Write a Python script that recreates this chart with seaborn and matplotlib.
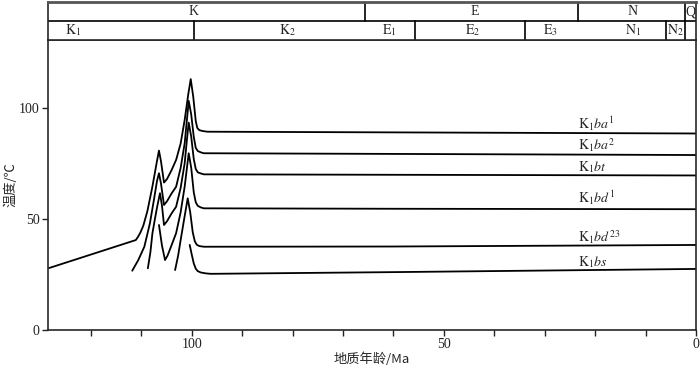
import matplotlib
matplotlib.use("Agg")
import matplotlib.pyplot as plt
import pandas as pd
import seaborn as sns
from matplotlib.ticker import FuncFormatter, MultipleLocator

# Data: age (Ma) and temperature (degC) along each layer's burial path
ba1_age = [128.3, 111.1, 110.7, 110.2, 109.6, 108.8, 107.8, 106.9, 106.5, 106.1, 105.5, 104.9, 104.0,
           103.1, 102.2, 101.4, 100.7, 100.2, 99.7, 99.2, 98.9, 98.5, 97.8, 96.9, 60.0, 0.0]
ba1_temp = [27.9, 40.5, 41.8, 43.8, 47.0, 53.5, 64.6, 76.0, 80.8, 76.0, 66.4, 68.0, 72.0,
            76.6, 84.0, 94.6, 106.0, 113.0, 105.0, 94.0, 91.0, 90.0, 89.6, 89.3, 89.0, 88.5]

ba2_age = [111.8, 110.6, 109.4, 108.3, 107.5, 106.9, 106.5, 106.1, 105.5, 104.9, 104.0, 103.1,
           102.2, 101.4, 100.9, 100.6, 100.1, 99.6, 99.2, 98.8, 98.2, 97.6, 60.0, 0.0]
ba2_temp = [26.7, 31.5, 37.5, 48.0, 58.6, 67.0, 70.6, 66.0, 56.3, 58.0, 61.5, 64.5,
            73.0, 84.1, 96.0, 103.2, 97.0, 87.0, 82.0, 80.6, 80.0, 79.6, 79.3, 78.8]

bt_age = [108.7, 108.2, 107.8, 107.3, 106.9, 106.3, 105.9, 105.5, 104.9, 104.0, 103.1, 102.2,
          101.4, 100.9, 100.6, 100.1, 99.6, 99.2, 98.8, 98.2, 97.6, 60.0, 0.0]
bt_temp = [27.8, 35.0, 43.5, 50.0, 55.0, 61.6, 56.0, 47.3, 49.0, 52.5, 55.5, 64.0,
           75.1, 87.0, 93.4, 87.0, 77.0, 72.5, 71.0, 70.5, 70.1, 69.9, 69.6]

bd1_age = [106.5, 105.9, 105.3, 104.8, 104.2, 103.1, 102.2, 101.4, 100.9, 100.6, 100.1, 99.6,
           99.2, 98.8, 98.2, 97.6, 60.0, 0.0]
bd1_temp = [47.3, 38.0, 31.5, 33.5, 37.0, 43.6, 53.0, 64.6, 74.0, 79.6, 73.0, 62.0,
            57.5, 55.9, 55.2, 54.8, 54.6, 54.4]

bd23_age = [103.3, 102.7, 102.2, 101.5, 100.8, 100.3, 99.8, 99.4, 99.0, 98.5, 97.6, 60.0, 0.0]
bd23_temp = [27.0, 33.5, 40.5, 50.0, 59.3, 53.0, 44.0, 40.0, 38.4, 37.8, 37.5, 37.6, 38.3]

bs_age = [100.4, 100.0, 99.6, 99.2, 98.8, 98.2, 97.2, 96.2, 58.6, 0.0]
bs_temp = [38.3, 34.0, 30.0, 27.6, 26.5, 25.9, 25.5, 25.3, 26.1, 27.5]

layers = [r"$\mathrm{K}_1ba^1$", r"$\mathrm{K}_1ba^2$", r"$\mathrm{K}_1bt$",
          r"$\mathrm{K}_1bd^1$", r"$\mathrm{K}_1bd^{23}$", r"$\mathrm{K}_1bs$"]
label_temp = [92.8, 83.3, 73.4, 59.5, 41.9, 30.6]

# Stratigraphic header: upper row (periods) and lower row (epochs)
period_bounds = [65.7, 23.4, 2.2]
period_names = ["K", "E", "N", "Q"]
period_label_age = [99.6, 43.8, 12.5, 1.2]
epoch_bounds = [99.6, 55.8, 33.9, 5.9, 2.2]
epoch_names = [r"$\mathrm{K}_1$", r"$\mathrm{K}_2$", r"$\mathrm{E}_1$", r"$\mathrm{E}_2$",
               r"$\mathrm{E}_3$", r"$\mathrm{N}_1$", r"$\mathrm{N}_2$"]
epoch_label_age = [123.6, 81.0, 60.9, 44.2, 28.9, 12.5, 4.0]

curves = [(ba1_age, ba1_temp), (ba2_age, ba2_temp), (bt_age, bt_temp),
          (bd1_age, bd1_temp), (bd23_age, bd23_temp), (bs_age, bs_temp)]

# Style
sns.set_style("ticks")
plt.rcParams["font.family"] = ["Liberation Serif", "Noto Sans CJK SC", "DejaVu Sans"]
plt.rcParams["mathtext.fontset"] = "stix"
plt.rcParams["axes.linewidth"] = 1.2

fig = plt.figure(figsize=(7, 3.67), dpi=100)
ax = fig.add_axes([0.0686, 0.1008, 0.9257, 0.7902])
hdr = fig.add_axes([0.0686, 0.8910, 0.9257, 0.1035])

for age, temp in curves:
    df = pd.DataFrame({"age": age, "temp": temp})
    sns.lineplot(data=df, x="age", y="temp", sort=False, estimator=None,
                 color="black", linewidth=1.3, ax=ax)

for name, t in zip(layers, label_temp):
    ax.text(23.4, t, name, fontsize=10, ha="left", va="center")

ax.set_xlim(128.5, 0)
ax.set_ylim(0, 130.6)
ax.xaxis.set_major_locator(MultipleLocator(10))
ax.xaxis.set_major_formatter(FuncFormatter(lambda x, p: f"{x:.0f}" if round(x) % 50 == 0 else ""))
ax.yaxis.set_major_locator(MultipleLocator(50))
ax.tick_params(direction="out", length=4, width=1, labelsize=10, colors="#222222", pad=2)
ax.set_xlabel("地质年龄/Ma", family=["Noto Sans CJK SC"], fontsize=9.5, labelpad=1)
ax.set_ylabel("温度/℃", family=["Noto Sans CJK SC"], fontsize=9.5, labelpad=1)

# Header boxes
hdr.set_xlim(128.5, 0)
hdr.set_ylim(0, 2)
hdr.set_xticks([])
hdr.set_yticks([])
hdr.axhline(1, color="black", linewidth=1.2)
for b in period_bounds:
    hdr.plot([b, b], [1, 2], color="black", linewidth=1.2)
for b in epoch_bounds:
    hdr.plot([b, b], [0, 1], color="black", linewidth=1.2)
for name, a in zip(period_names, period_label_age):
    hdr.text(a, 1.5, name, ha="center", va="center", fontsize=10)
for name, a in zip(epoch_names, epoch_label_age):
    hdr.text(a, 0.5, name, ha="center", va="center", fontsize=10)
hdr.spines["top"].set_linewidth(2)
hdr.spines["top"].set_color("#555555")

fig.savefig("out.png", dpi=100)
